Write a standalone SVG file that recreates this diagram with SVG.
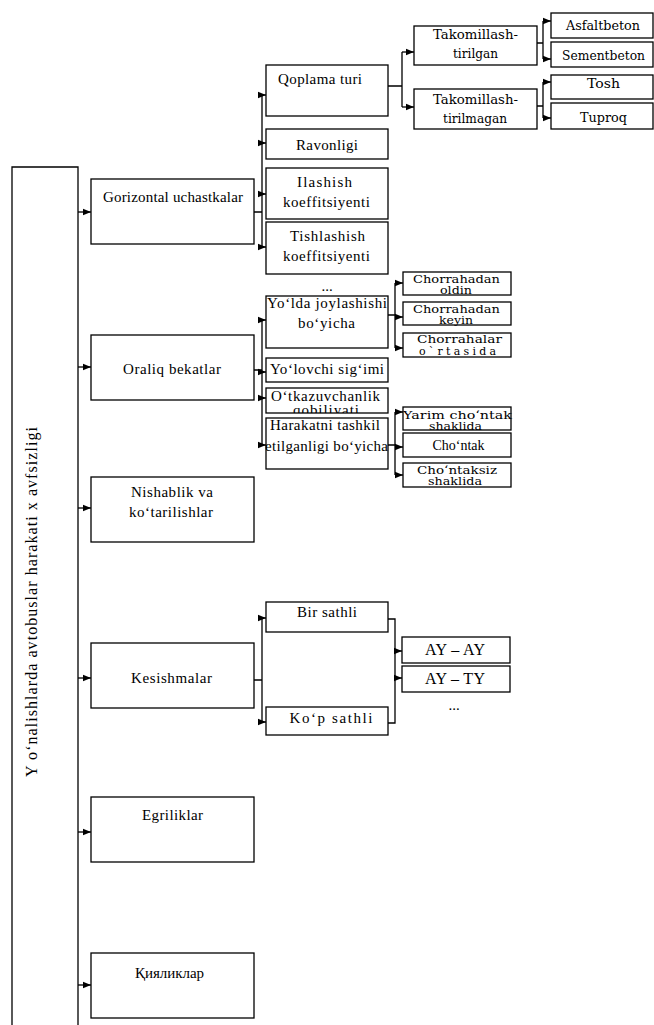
<svg xmlns="http://www.w3.org/2000/svg" width="654" height="1025" viewBox="0 0 654 1025">
<style>
.b{fill:#fff;stroke:#000;stroke-width:1.3}
.w{fill:#fff;stroke:none}
.t{font-family:"Liberation Serif",serif;fill:#000;text-anchor:middle}
.l1{font-size:15px}
.l2{font-size:15px}
.l3{font-family:"DejaVu Serif","Liberation Serif",serif;font-size:13px}
.l4{font-family:"DejaVu Serif","Liberation Serif",serif;font-size:11px}
.c{fill:none;stroke:#000;stroke-width:1.3}
</style>
<defs>
<marker id="a" markerWidth="8" markerHeight="8" refX="8" refY="4" orient="auto" markerUnits="userSpaceOnUse">
<path d="M0,0.8 L8,4 L0,7.2 Z" fill="#000"/>
</marker>
<clipPath id="cpO"><rect x="266" y="388" width="122" height="25"/></clipPath>
<clipPath id="cpY"><rect x="395" y="407" width="125" height="23"/></clipPath>
</defs>

<g id="main">
<path class="c" d="M12,1030 V167 H78 V1030"/>
<text class="t" font-size="16" transform="translate(37,602) rotate(-90)" textLength="350" lengthAdjust="spacing">Y o‘nalishlarda avtobuslar harakati x avfsizligi</text>
</g>

<g id="connectors">
<path class="c" marker-end="url(#a)" d="M78,212 H91"/>
<path class="c" marker-end="url(#a)" d="M78,367 H91"/>
<path class="c" marker-end="url(#a)" d="M78,508 H91"/>
<path class="c" marker-end="url(#a)" d="M78,678 H91"/>
<path class="c" marker-end="url(#a)" d="M78,832 H91"/>
<path class="c" marker-end="url(#a)" d="M78,985 H91"/>

<path class="c" d="M254,212 H262 M262,95 V247"/>
<path class="c" marker-end="url(#a)" d="M262,95 H266"/>
<path class="c" marker-end="url(#a)" d="M262,143 H266"/>
<path class="c" marker-end="url(#a)" d="M262,194 H266"/>
<path class="c" marker-end="url(#a)" d="M262,247 H266"/>

<path class="c" d="M388,86 H402 M402,52 V107"/>
<path class="c" marker-end="url(#a)" d="M402,52 H414"/>
<path class="c" marker-end="url(#a)" d="M402,107 H414"/>

<path class="c" d="M537,43 H543 M543,21 V59"/>
<path class="c" marker-end="url(#a)" d="M543,21 H551"/>
<path class="c" marker-end="url(#a)" d="M543,59 H551"/>
<path class="c" d="M537,106 H543 M543,82 V118"/>
<path class="c" marker-end="url(#a)" d="M543,82 H551"/>
<path class="c" marker-end="url(#a)" d="M543,118 H551"/>

<path class="c" d="M254,370 H262 M262,320 V445"/>
<path class="c" marker-end="url(#a)" d="M262,320 H266"/>
<path class="c" marker-end="url(#a)" d="M262,372 H266"/>
<path class="c" marker-end="url(#a)" d="M262,398 H266"/>
<path class="c" marker-end="url(#a)" d="M262,445 H266"/>

<path class="c" d="M388,315 H395 M395,283 V348"/>
<path class="c" marker-end="url(#a)" d="M395,283 H403"/>
<path class="c" marker-end="url(#a)" d="M395,317 H403"/>
<path class="c" marker-end="url(#a)" d="M395,348 H403"/>

<path class="c" d="M388,445 H395 M395,412 V475"/>
<path class="c" marker-end="url(#a)" d="M395,412 H403"/>
<path class="c" marker-end="url(#a)" d="M395,447 H403"/>
<path class="c" marker-end="url(#a)" d="M395,475 H403"/>

<path class="c" d="M254,680 H262 M262,618 V722"/>
<path class="c" marker-end="url(#a)" d="M262,618 H266"/>
<path class="c" marker-end="url(#a)" d="M262,722 H266"/>

<path class="c" d="M388,619 H395 V723 H388"/>
<path class="c" marker-end="url(#a)" d="M395,651 H402"/>
<path class="c" marker-end="url(#a)" d="M395,678 H402"/>
</g>

<g id="n-gorizontal"><rect class="b" x="91" y="179" width="163" height="65"/><text class="t l1" x="173" y="202" textLength="140" lengthAdjust="spacing">Gorizontal uchastkalar</text></g>
<g id="n-oraliq"><rect class="b" x="91" y="335" width="163" height="65"/><text class="t l1" x="172" y="374" textLength="98" lengthAdjust="spacing">Oraliq bekatlar</text></g>
<g id="n-nishablik"><rect class="b" x="91" y="477" width="163" height="65"/><text class="t l1" x="172" y="497" textLength="82" lengthAdjust="spacing">Nishablik va</text><text class="t l1" x="171" y="517" textLength="84" lengthAdjust="spacing">ko‘tarilishlar</text></g>
<g id="n-kesishmalar"><rect class="b" x="91" y="643" width="163" height="65"/><text class="t l1" x="171.5" y="683" textLength="81" lengthAdjust="spacing">Kesishmalar</text></g>
<g id="n-egriliklar"><rect class="b" x="91" y="797" width="163" height="65"/><text class="t l1" x="172.5" y="820" textLength="61" lengthAdjust="spacing">Egriliklar</text></g>
<g id="n-qiyaliklar"><rect class="b" x="91" y="953" width="163" height="65"/><text class="t l1" x="169.5" y="978" textLength="69" lengthAdjust="spacing">Қияликлар</text></g>

<g id="n-qoplama"><rect class="b" x="266" y="65" width="122" height="51"/><text class="t l2" x="320" y="84" textLength="84" lengthAdjust="spacing">Qoplama turi</text></g>
<g id="n-ravonligi"><rect class="b" x="266" y="129" width="122" height="30"/><text class="t l2" x="327" y="150" textLength="62" lengthAdjust="spacing">Ravonligi</text></g>
<g id="n-ilashish"><rect class="b" x="266" y="168" width="122" height="51"/><text class="t l2" x="324.5" y="187" textLength="55" lengthAdjust="spacing">Ilashish</text><text class="t l2" x="326.5" y="207" textLength="87" lengthAdjust="spacing">koeffitsiyenti</text></g>
<g id="n-tishlashish"><rect class="b" x="266" y="222" width="122" height="52"/><text class="t l2" x="327.5" y="241" textLength="75" lengthAdjust="spacing">Tishlashish</text><text class="t l2" x="326.5" y="261" textLength="87" lengthAdjust="spacing">koeffitsiyenti</text></g>

<g id="n-takt"><rect class="b" x="414" y="26" width="123" height="39"/><text class="t l3" x="475.5" y="39" textLength="85" lengthAdjust="spacingAndGlyphs">Takomillash-</text><text class="t l3" x="475.5" y="58" textLength="45" lengthAdjust="spacingAndGlyphs">tirilgan</text></g>
<g id="n-takm"><rect class="b" x="414" y="89" width="123" height="40"/><text class="t l3" x="475.5" y="104" textLength="85" lengthAdjust="spacingAndGlyphs">Takomillash-</text><text class="t l3" x="475" y="123" textLength="64" lengthAdjust="spacingAndGlyphs">tirilmagan</text></g>

<g id="n-asfalt"><rect class="b" x="551" y="13" width="102" height="25"/><text class="t l3" x="603" y="30" textLength="74" lengthAdjust="spacingAndGlyphs">Asfaltbeton</text></g>
<g id="n-sement"><rect class="b" x="551" y="42" width="102" height="25"/><text class="t l3" x="603.5" y="60" textLength="83" lengthAdjust="spacingAndGlyphs">Sementbeton</text></g>
<g id="n-tosh"><rect class="b" x="551" y="75" width="102" height="24"/><text class="t l3" x="603.5" y="88" textLength="33" lengthAdjust="spacingAndGlyphs">Tosh</text></g>
<g id="n-tuproq"><rect class="b" x="551" y="103" width="102" height="26"/><text class="t l3" x="603.5" y="122" textLength="47" lengthAdjust="spacingAndGlyphs">Tuproq</text></g>

<g id="n-dots1"><text class="t l2" x="327" y="291">...</text></g>
<g id="n-yolda"><rect class="b" x="266" y="296" width="122" height="52"/><text class="t l2" x="327" y="308" textLength="120" lengthAdjust="spacing">Yo‘lda joylashishi</text><text class="t l2" x="326.5" y="328" textLength="57" lengthAdjust="spacing">bo‘yicha</text></g>
<g id="n-yolovchi"><rect class="b" x="266" y="358" width="122" height="24"/><text class="t l2" x="327" y="374" textLength="114" lengthAdjust="spacing">Yo‘lovchi sig‘imi</text></g>
<g id="n-otkaz"><rect class="w" x="266" y="388" width="122" height="25"/><g clip-path="url(#cpO)"><text class="t l2" x="325.5" y="401" textLength="109" lengthAdjust="spacing">O‘tkazuvchanlik</text><text class="t l2" x="326" y="415" textLength="66" lengthAdjust="spacing">qobiliyati</text></g><rect x="266" y="388" width="122" height="25" fill="none" stroke="#000" stroke-width="1.3"/></g>
<g id="n-harakat"><rect class="b" x="266" y="418" width="122" height="51"/><text class="t l2" x="325" y="430" textLength="110" lengthAdjust="spacing">Harakatni tashkil</text><text class="t l2" x="326.5" y="451" textLength="123" lengthAdjust="spacing">etilganligi bo‘yicha</text></g>

<g id="n-ch1"><rect class="b" x="403" y="272" width="108" height="23"/><text class="t l4" x="456.5" y="283" textLength="87" lengthAdjust="spacingAndGlyphs">Chorrahadan</text><text class="t l4" x="456" y="294" textLength="32" lengthAdjust="spacingAndGlyphs">oldin</text></g>
<g id="n-ch2"><rect class="b" x="403" y="302" width="108" height="23"/><text class="t l4" x="456.5" y="313" textLength="87" lengthAdjust="spacingAndGlyphs">Chorrahadan</text><text class="t l4" x="456" y="324" textLength="34" lengthAdjust="spacingAndGlyphs">keyin</text></g>
<g id="n-ch3"><rect class="b" x="403" y="333" width="108" height="24"/><text class="t l4" x="459.5" y="343" textLength="85" lengthAdjust="spacingAndGlyphs">Chorrahalar</text><text class="t l4" x="457.5" y="355" textLength="77" lengthAdjust="spacing">o`rtasida</text></g>

<g id="n-yarim"><rect class="w" x="403" y="407" width="108" height="23"/><g clip-path="url(#cpY)"><text class="t l4" x="457.5" y="419" textLength="109" lengthAdjust="spacingAndGlyphs">Yarim cho‘ntak</text><text class="t l4" x="455.5" y="430" textLength="53" lengthAdjust="spacingAndGlyphs">shaklida</text></g><rect x="403" y="407" width="108" height="23" fill="none" stroke="#000" stroke-width="1.3"/></g>
<g id="n-chontak"><rect class="b" x="403" y="433" width="108" height="24"/><text class="t" font-size="14" x="458.5" y="450" textLength="52" lengthAdjust="spacing">Cho‘ntak</text></g>
<g id="n-chontaksiz"><rect class="b" x="403" y="463" width="108" height="24"/><text class="t l4" x="457" y="474" textLength="80" lengthAdjust="spacingAndGlyphs">Cho‘ntaksiz</text><text class="t l4" x="455" y="485" textLength="54" lengthAdjust="spacingAndGlyphs">shaklida</text></g>

<g id="n-bir"><rect class="b" x="266" y="602" width="122" height="30"/><text class="t l2" x="327" y="617" textLength="60" lengthAdjust="spacing">Bir sathli</text></g>
<g id="n-kop"><rect class="b" x="266" y="707" width="122" height="28"/><text class="t l2" x="331" y="723" textLength="83" lengthAdjust="spacing">Ko‘p sathli</text></g>
<g id="n-ayay"><rect class="b" x="402" y="637" width="108" height="26"/><text class="t" font-size="16" x="455" y="655" textLength="60" lengthAdjust="spacing">AY – AY</text></g>
<g id="n-ayty"><rect class="b" x="402" y="666" width="108" height="26"/><text class="t" font-size="16" x="455" y="684" textLength="60" lengthAdjust="spacing">AY – TY</text></g>
<g id="n-dots2"><text class="t l2" x="454" y="710">...</text></g>
</svg>
